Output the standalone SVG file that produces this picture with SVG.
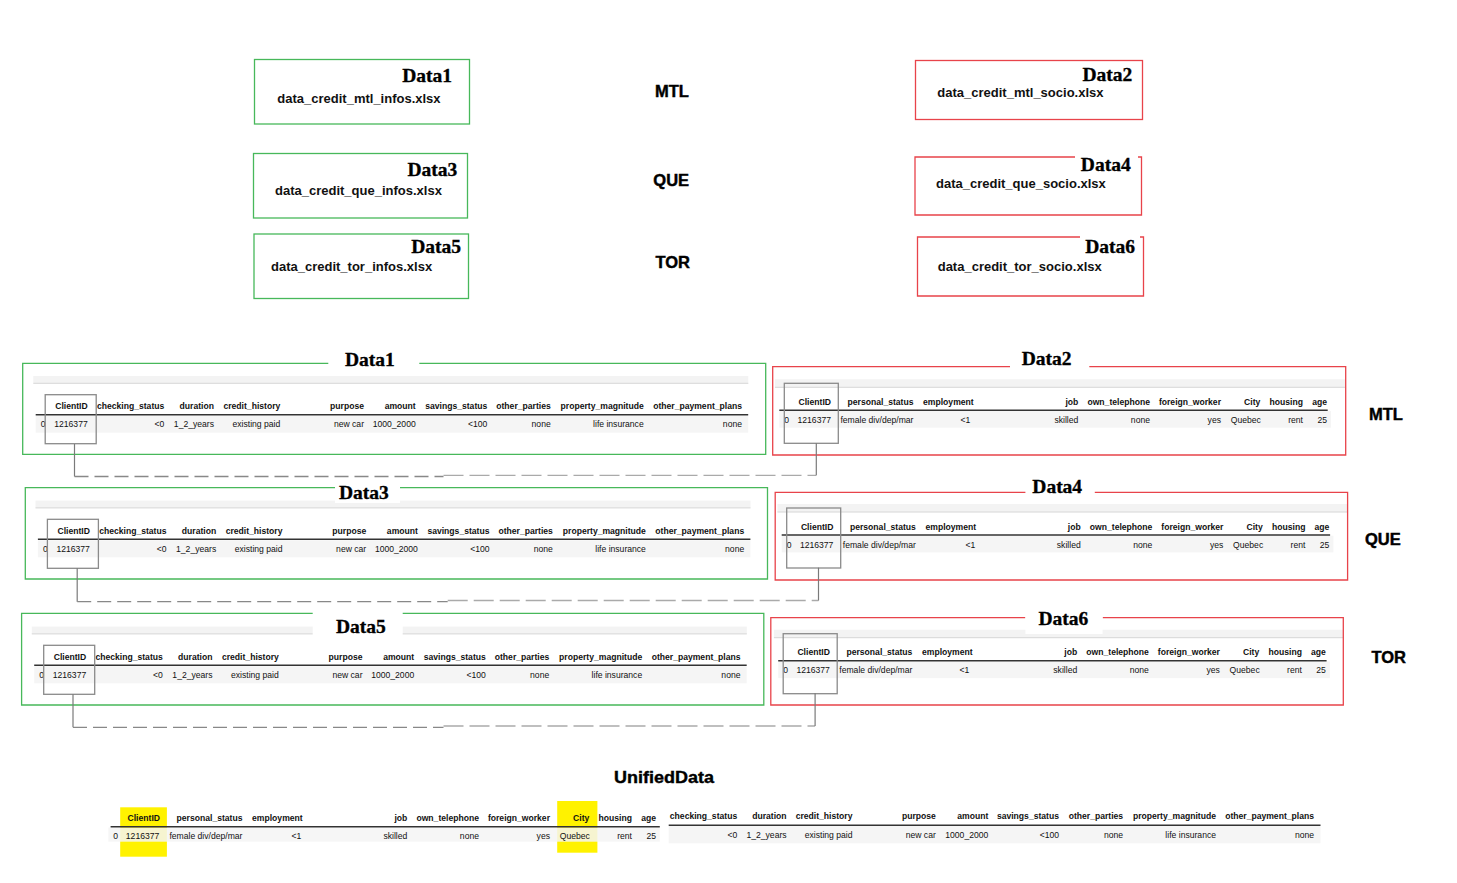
<svg xmlns="http://www.w3.org/2000/svg" width="1457" height="883" viewBox="0 0 1457 883">
<style>
text{font-family:"Liberation Sans",Arial,sans-serif;fill:#111}
.ttl{font-family:"Liberation Serif","Times New Roman",serif;font-weight:bold;font-size:19.5px;fill:#000;stroke:#000;stroke-width:0.35}
.fn{font-weight:bold;font-size:13px}
.city{font-weight:bold;font-size:16.5px;fill:#000;stroke:#000;stroke-width:0.45}
.uni{font-weight:bold;font-size:17px;fill:#000;stroke:#000;stroke-width:0.4}
.th{font-weight:bold;font-size:8.6px;text-anchor:end}
.td{font-size:8.6px;text-anchor:end}
.ix{font-size:8.6px}
.gf{fill:none;stroke:#47b85a;stroke-width:1.3}
.rf{fill:none;stroke:#e8434a;stroke-width:1.3}
.tb{fill:#f3f3f3}
.tbl{stroke:#d6d6d6;stroke-width:1}
.rowbg{fill:#f5f5f5}
.hl{stroke:#333;stroke-width:1.4}
.cid{fill:none;stroke:#8a8a8a;stroke-width:1.3}
.wb{fill:#fff}
.vc{stroke:#7a7a7a;stroke-width:1.2;fill:none}
.dl{stroke:#888;stroke-width:1.3;stroke-dasharray:14 6;fill:none}
.dr{stroke:#aaa;stroke-width:1.3;stroke-dasharray:20 6;fill:none}
.yl{fill:#fff200}
</style>

<!-- top file boxes -->
<g id="file1">
<rect class="gf" x="254.5" y="59.5" width="215" height="64.5"/>
<text class="ttl" x="452" y="82.3" text-anchor="end">Data1</text>
<text class="fn" x="277.3" y="103.3">data_credit_mtl_infos.xlsx</text>
</g>
<g id="file3">
<rect class="gf" x="253.5" y="153.5" width="214" height="64.5"/>
<text class="ttl" x="457.3" y="175.7" text-anchor="end">Data3</text>
<text class="fn" x="275" y="195">data_credit_que_infos.xlsx</text>
</g>
<g id="file5">
<rect class="gf" x="254" y="234" width="214.5" height="64.5"/>
<text class="ttl" x="461" y="252.7" text-anchor="end">Data5</text>
<text class="fn" x="271" y="270.7">data_credit_tor_infos.xlsx</text>
</g>
<g id="file2">
<rect class="rf" x="915.5" y="60.5" width="227" height="59"/>
<text class="ttl" x="1132.3" y="80.7" text-anchor="end">Data2</text>
<text class="fn" x="937.3" y="96.7">data_credit_mtl_socio.xlsx</text>
</g>
<g id="file4">
<path class="rf" d="M1075,157 H915 V215 H1141.5 V157 H1138"/>
<text class="ttl" x="1130.7" y="170.7" text-anchor="end">Data4</text>
<text class="fn" x="936" y="188.3">data_credit_que_socio.xlsx</text>
</g>
<g id="file6">
<path class="rf" d="M1080,237 H917.5 V296 H1143.5 V237 H1140"/>
<text class="ttl" x="1135" y="252.7" text-anchor="end">Data6</text>
<text class="fn" x="937.7" y="270.7">data_credit_tor_socio.xlsx</text>
</g>

<g id="cityLabels">
<text class="city" x="655" y="96.7">MTL</text>
<text class="city" x="653.3" y="186">QUE</text>
<text class="city" x="655.5" y="268.3">TOR</text>
<text class="city" x="1369" y="420">MTL</text>
<text class="city" x="1365" y="545">QUE</text>
<text class="city" x="1371.5" y="663.3">TOR</text>
</g>

<!-- Data1 table -->
<g id="table1">
<g transform="translate(35.7,414.7)">
<rect class="tb" x="-2.4" y="-38.7" width="715" height="7.3"/>
<line class="tbl" x1="-2.4" y1="-31.4" x2="712.6" y2="-31.4"/>
<rect class="rowbg" x="0" y="1" width="712.5" height="17"/>
<line class="hl" x1="0" y1="0" x2="712.5" y2="0"/>
<text class="th" x="52" y="-5.5">ClientID</text><text class="th" x="128.6" y="-5.5">checking_status</text><text class="th" x="178.3" y="-5.5">duration</text><text class="th" x="244.6" y="-5.5">credit_history</text><text class="th" x="328.3" y="-5.5">purpose</text><text class="th" x="380" y="-5.5">amount</text><text class="th" x="451.6" y="-5.5">savings_status</text><text class="th" x="515" y="-5.5">other_parties</text><text class="th" x="608" y="-5.5">property_magnitude</text><text class="th" x="706.3" y="-5.5">other_payment_plans</text>
<text class="ix" x="5" y="12.8">0</text><text class="td" x="52" y="12.8">1216377</text><text class="td" x="128.6" y="12.8">&lt;0</text><text class="td" x="178.3" y="12.8">1_2_years</text><text class="td" x="244.6" y="12.8">existing paid</text><text class="td" x="328.3" y="12.8">new car</text><text class="td" x="380" y="12.8">1000_2000</text><text class="td" x="451.6" y="12.8">&lt;100</text><text class="td" x="515" y="12.8">none</text><text class="td" x="608" y="12.8">life insurance</text><text class="td" x="706.3" y="12.8">none</text>
<rect class="cid" x="9.5" y="-20" width="51" height="49"/>
</g>
<path class="gf" d="M328.3,363.3 H22.7 V454.3 H765.7 V363.3 H419.3"/>
<text class="ttl" x="345" y="365.7">Data1</text>
</g>

<!-- Data3 table -->
<g id="table3">
<g transform="translate(37.9,539.3)">
<rect class="tb" x="-2.4" y="-38.7" width="715" height="7.3"/>
<line class="tbl" x1="-2.4" y1="-31.4" x2="712.6" y2="-31.4"/>
<rect class="rowbg" x="0" y="1" width="712.5" height="17"/>
<line class="hl" x1="0" y1="0" x2="712.5" y2="0"/>
<text class="th" x="52" y="-5.5">ClientID</text><text class="th" x="128.6" y="-5.5">checking_status</text><text class="th" x="178.3" y="-5.5">duration</text><text class="th" x="244.6" y="-5.5">credit_history</text><text class="th" x="328.3" y="-5.5">purpose</text><text class="th" x="380" y="-5.5">amount</text><text class="th" x="451.6" y="-5.5">savings_status</text><text class="th" x="515" y="-5.5">other_parties</text><text class="th" x="608" y="-5.5">property_magnitude</text><text class="th" x="706.3" y="-5.5">other_payment_plans</text>
<text class="ix" x="5" y="12.8">0</text><text class="td" x="52" y="12.8">1216377</text><text class="td" x="128.6" y="12.8">&lt;0</text><text class="td" x="178.3" y="12.8">1_2_years</text><text class="td" x="244.6" y="12.8">existing paid</text><text class="td" x="328.3" y="12.8">new car</text><text class="td" x="380" y="12.8">1000_2000</text><text class="td" x="451.6" y="12.8">&lt;100</text><text class="td" x="515" y="12.8">none</text><text class="td" x="608" y="12.8">life insurance</text><text class="td" x="706.3" y="12.8">none</text>
<rect class="cid" x="9.5" y="-20" width="51" height="49"/>
</g>
<path class="gf" d="M335,487.7 H25.3 V579 H767.5 V487.7 H400"/>
<rect class="wb" x="335" y="484" width="65" height="19"/>
<text class="ttl" x="339" y="499">Data3</text>
</g>

<!-- Data5 table -->
<g id="table5">
<g transform="translate(34.2,665.3)">
<rect class="tb" x="-2.4" y="-38.7" width="715" height="7.3"/>
<line class="tbl" x1="-2.4" y1="-31.4" x2="712.6" y2="-31.4"/>
<rect class="rowbg" x="0" y="1" width="712.5" height="17"/>
<line class="hl" x1="0" y1="0" x2="712.5" y2="0"/>
<text class="th" x="52" y="-5.5">ClientID</text><text class="th" x="128.6" y="-5.5">checking_status</text><text class="th" x="178.3" y="-5.5">duration</text><text class="th" x="244.6" y="-5.5">credit_history</text><text class="th" x="328.3" y="-5.5">purpose</text><text class="th" x="380" y="-5.5">amount</text><text class="th" x="451.6" y="-5.5">savings_status</text><text class="th" x="515" y="-5.5">other_parties</text><text class="th" x="608" y="-5.5">property_magnitude</text><text class="th" x="706.3" y="-5.5">other_payment_plans</text>
<text class="ix" x="5" y="12.8">0</text><text class="td" x="52" y="12.8">1216377</text><text class="td" x="128.6" y="12.8">&lt;0</text><text class="td" x="178.3" y="12.8">1_2_years</text><text class="td" x="244.6" y="12.8">existing paid</text><text class="td" x="328.3" y="12.8">new car</text><text class="td" x="380" y="12.8">1000_2000</text><text class="td" x="451.6" y="12.8">&lt;100</text><text class="td" x="515" y="12.8">none</text><text class="td" x="608" y="12.8">life insurance</text><text class="td" x="706.3" y="12.8">none</text>
<rect class="cid" x="9.5" y="-20" width="51" height="49"/>
</g>
<path class="gf" d="M312.7,613.3 H21.6 V705 H763.8 V613.3 H402.7"/>
<rect class="wb" x="312.7" y="615" width="90" height="21"/>
<text class="ttl" x="336" y="633.3">Data5</text>
</g>

<!-- Data2 table -->
<g id="table2">
<g transform="translate(779.3,410.3)">
<rect class="tb" x="-4.3" y="-31" width="570" height="8"/>
<line class="tbl" x1="-4.3" y1="-23" x2="565.7" y2="-23"/>
<rect class="rowbg" x="0" y="0.7" width="551.7" height="16.7"/>
<line class="hl" x1="0" y1="0" x2="548.4" y2="0"/>
<text class="th" x="51.7" y="-5.5">ClientID</text><text class="th" x="134.2" y="-5.5">personal_status</text><text class="th" x="194.4" y="-5.5">employment</text><text class="th" x="299" y="-5.5">job</text><text class="th" x="370.7" y="-5.5">own_telephone</text><text class="th" x="441.7" y="-5.5">foreign_worker</text><text class="th" x="481" y="-5.5">City</text><text class="th" x="523.7" y="-5.5">housing</text><text class="th" x="547.7" y="-5.5">age</text>
<text class="ix" x="5" y="13">0</text><text class="td" x="51.7" y="13">1216377</text><text class="td" x="134.2" y="13">female div/dep/mar</text><text class="td" x="191" y="13">&lt;1</text><text class="td" x="299" y="13">skilled</text><text class="td" x="370.7" y="13">none</text><text class="td" x="441.7" y="13">yes</text><text class="td" x="481.5" y="13">Quebec</text><text class="td" x="523.7" y="13">rent</text><text class="td" x="547.7" y="13">25</text>
<rect class="cid" x="5" y="-27" width="54" height="60"/>
</g>
<path class="rf" d="M1010,366.7 H772.7 V455 H1345.7 V366.7 H1089.3"/>
<text class="ttl" x="1021.7" y="365">Data2</text>
</g>

<!-- Data4 table -->
<g id="table4">
<g transform="translate(781.7,535)">
<rect class="tb" x="-4.3" y="-31" width="570" height="8"/>
<line class="tbl" x1="-4.3" y1="-23" x2="565.7" y2="-23"/>
<rect class="rowbg" x="0" y="0.7" width="551.7" height="16.7"/>
<line class="hl" x1="0" y1="0" x2="548.4" y2="0"/>
<text class="th" x="51.7" y="-5.5">ClientID</text><text class="th" x="134.2" y="-5.5">personal_status</text><text class="th" x="194.4" y="-5.5">employment</text><text class="th" x="299" y="-5.5">job</text><text class="th" x="370.7" y="-5.5">own_telephone</text><text class="th" x="441.7" y="-5.5">foreign_worker</text><text class="th" x="481" y="-5.5">City</text><text class="th" x="523.7" y="-5.5">housing</text><text class="th" x="547.7" y="-5.5">age</text>
<text class="ix" x="5" y="12.6">0</text><text class="td" x="51.7" y="12.6">1216377</text><text class="td" x="134.2" y="12.6">female div/dep/mar</text><text class="td" x="193.5" y="12.6">&lt;1</text><text class="td" x="299" y="12.6">skilled</text><text class="td" x="370.7" y="12.6">none</text><text class="td" x="441.7" y="12.6">yes</text><text class="td" x="481.5" y="12.6">Quebec</text><text class="td" x="523.7" y="12.6">rent</text><text class="td" x="547.7" y="12.6">25</text>
<rect class="cid" x="5" y="-27" width="54" height="60"/>
</g>
<path class="rf" d="M1025.4,492.3 H775.2 V580 H1347.6 V492.3 H1094.8"/>
<text class="ttl" x="1032.3" y="493.3">Data4</text>
</g>

<!-- Data6 table -->
<g id="table6">
<g transform="translate(778.2,660.7)">
<rect class="tb" x="-4.3" y="-31" width="570" height="8"/>
<line class="tbl" x1="-4.3" y1="-23" x2="565.7" y2="-23"/>
<rect class="rowbg" x="0" y="0.7" width="551.7" height="16.7"/>
<line class="hl" x1="0" y1="0" x2="548.4" y2="0"/>
<text class="th" x="51.7" y="-5.5">ClientID</text><text class="th" x="134.2" y="-5.5">personal_status</text><text class="th" x="194.4" y="-5.5">employment</text><text class="th" x="299" y="-5.5">job</text><text class="th" x="370.7" y="-5.5">own_telephone</text><text class="th" x="441.7" y="-5.5">foreign_worker</text><text class="th" x="481" y="-5.5">City</text><text class="th" x="523.7" y="-5.5">housing</text><text class="th" x="547.7" y="-5.5">age</text>
<text class="ix" x="5" y="12.6">0</text><text class="td" x="51.7" y="12.6">1216377</text><text class="td" x="134.2" y="12.6">female div/dep/mar</text><text class="td" x="191" y="12.6">&lt;1</text><text class="td" x="299" y="12.6">skilled</text><text class="td" x="370.7" y="12.6">none</text><text class="td" x="441.7" y="12.6">yes</text><text class="td" x="481.5" y="12.6">Quebec</text><text class="td" x="523.7" y="12.6">rent</text><text class="td" x="547.7" y="12.6">25</text>
<rect class="cid" x="5" y="-27" width="54" height="60"/>
</g>
<path class="rf" d="M1025.4,617.7 H770.8 V705 H1343.3 V617.7 H1102.6"/>
<rect class="wb" x="1025.4" y="610" width="77.2" height="24"/>
<text class="ttl" x="1038.4" y="625">Data6</text>
</g>

<!-- connectors -->
<g id="connectors">
<path class="vc" d="M74.5,444 V476.5"/>
<path class="dl" d="M74.5,476.5 H443.5"/>
<path class="dr" d="M443.5,475.3 H816.3"/>
<path class="vc" d="M816.3,475.3 V443.3"/>
<path class="vc" d="M77.2,568.3 V601.7"/>
<path class="dl" d="M77.2,601.7 H447.7"/>
<path class="dr" d="M447.7,600.5 H818.5"/>
<path class="vc" d="M818.5,600.5 V567.7"/>
<path class="vc" d="M73,694.3 V727.3"/>
<path class="dl" d="M73,727.3 H443.5"/>
<path class="dr" d="M443.5,726 H815.1"/>
<path class="vc" d="M815.1,726 V693.3"/>
</g>

<!-- unified data -->
<g id="unified">
<text class="uni" x="614" y="783.3" textLength="100" lengthAdjust="spacingAndGlyphs">UnifiedData</text>
<rect class="yl" x="120.2" y="807.3" width="46.7" height="49.4"/>
<rect class="yl" x="557.2" y="801" width="40.2" height="51.7"/>
<g transform="translate(108.3,826.7)">
<rect class="rowbg" x="0" y="0.8" width="551.5" height="14.2" opacity="0.85"/>
<line class="hl" x1="2.3" y1="0" x2="551.5" y2="0"/>
<text class="th" x="51.7" y="-5.7">ClientID</text><text class="th" x="134.2" y="-5.7">personal_status</text><text class="th" x="194.4" y="-5.7">employment</text><text class="th" x="299" y="-5.7">job</text><text class="th" x="370.7" y="-5.7">own_telephone</text><text class="th" x="441.7" y="-5.7">foreign_worker</text><text class="th" x="481" y="-5.7">City</text><text class="th" x="523.7" y="-5.7">housing</text><text class="th" x="547.7" y="-5.7">age</text>
<text class="ix" x="5" y="12.3">0</text><text class="td" x="51" y="12.3">1216377</text><text class="td" x="134.2" y="12.3">female div/dep/mar</text><text class="td" x="192.9" y="12.3">&lt;1</text><text class="td" x="299" y="12.3">skilled</text><text class="td" x="370.7" y="12.3">none</text><text class="td" x="441.7" y="12.3">yes</text><text class="td" x="481.5" y="12.3">Quebec</text><text class="td" x="523.7" y="12.3">rent</text><text class="td" x="547.7" y="12.3">25</text>
</g>
<g transform="translate(608,825.3)">
<rect class="rowbg" x="60.7" y="0.8" width="651.8" height="17.2"/>
<line class="hl" x1="60.7" y1="0" x2="712.5" y2="0"/>
<text class="th" x="129.2" y="-6">checking_status</text><text class="th" x="178.6" y="-6">duration</text><text class="th" x="244.5" y="-6">credit_history</text><text class="th" x="327.8" y="-6">purpose</text><text class="th" x="380.3" y="-6">amount</text><text class="th" x="451" y="-6">savings_status</text><text class="th" x="515.1" y="-6">other_parties</text><text class="th" x="608" y="-6">property_magnitude</text><text class="th" x="706" y="-6">other_payment_plans</text>
<text class="td" x="129.2" y="12.4">&lt;0</text><text class="td" x="178.6" y="12.4">1_2_years</text><text class="td" x="244.5" y="12.4">existing paid</text><text class="td" x="327.8" y="12.4">new car</text><text class="td" x="380.3" y="12.4">1000_2000</text><text class="td" x="451" y="12.4">&lt;100</text><text class="td" x="515.1" y="12.4">none</text><text class="td" x="608" y="12.4">life insurance</text><text class="td" x="706" y="12.4">none</text>
</g>
</g>
</svg>
